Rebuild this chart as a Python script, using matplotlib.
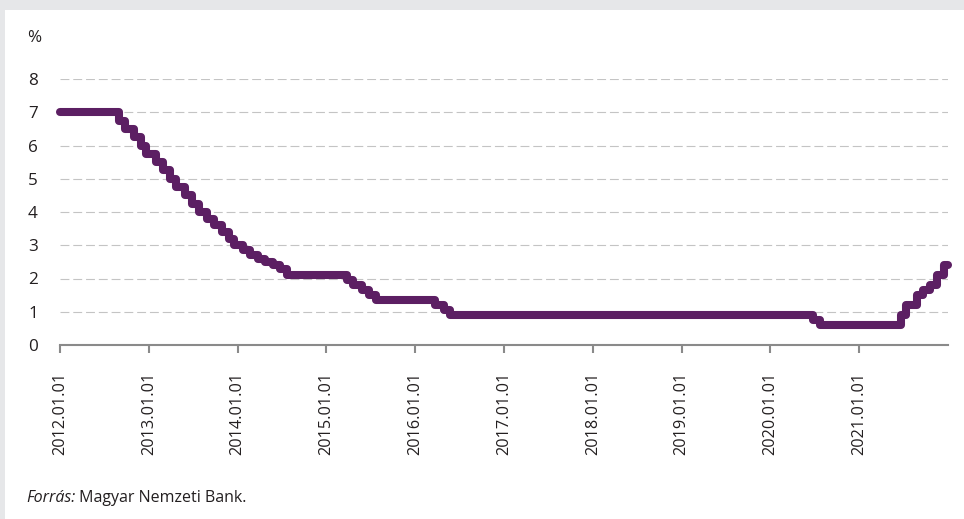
import numpy as np
import matplotlib.pyplot as plt
from matplotlib.patches import Rectangle
from datetime import datetime

# MNB alapkamat (hatályba lépés dátuma, kamat %)
dates = ['2012-01-01', '2012-08-29', '2012-09-26', '2012-10-31', '2012-11-28',
         '2012-12-19', '2013-01-30', '2013-02-27', '2013-03-27', '2013-04-24',
         '2013-05-29', '2013-06-26', '2013-07-24', '2013-08-28', '2013-09-25',
         '2013-10-30', '2013-11-27', '2013-12-18', '2014-01-22', '2014-02-19',
         '2014-03-26', '2014-04-23', '2014-05-28', '2014-06-25', '2014-07-23',
         '2015-03-25', '2015-04-22', '2015-05-27', '2015-06-24', '2015-07-22',
         '2016-03-23', '2016-04-27', '2016-05-25', '2020-06-24', '2020-07-22',
         '2021-06-23', '2021-07-14', '2021-08-25', '2021-09-22', '2021-10-20',
         '2021-11-17', '2021-12-15', '2021-12-31']
rates = [7.00, 6.75, 6.50, 6.25, 6.00,
         5.75, 5.50, 5.25, 5.00, 4.75,
         4.50, 4.25, 4.00, 3.80, 3.60,
         3.40, 3.20, 3.00, 2.85, 2.70,
         2.60, 2.50, 2.40, 2.30, 2.10,
         1.95, 1.80, 1.65, 1.50, 1.35,
         1.20, 1.05, 0.90, 0.75, 0.60,
         0.90, 1.20, 1.50, 1.65, 1.80,
         2.10, 2.40, 2.40]
tick_years = list(range(2012, 2022))
y_ticks = [0, 1, 2, 3, 4, 5, 6, 7, 8]

plt.rcParams['font.family'] = ['Open Sans', 'DejaVu Sans']

x = [datetime.strptime(d, '%Y-%m-%d') for d in dates]

fig = plt.figure(figsize=(9.64, 5.19), dpi=100)
fig.patch.set_facecolor('white')
# szürke keret felül és bal oldalt
fig.patches.append(Rectangle((0, 1 - 10 / 519), 1, 10 / 519, transform=fig.transFigure,
                             facecolor='#e6e7e9', edgecolor='none', zorder=0))
fig.patches.append(Rectangle((0, 0), 5 / 964, 1, transform=fig.transFigure,
                             facecolor='#e6e7e9', edgecolor='none', zorder=0))

ax = fig.add_axes([60 / 964, (519 - 345) / 519, 888 / 964, 266 / 519])
ax.set_facecolor('none')

ax.plot(x, rates, drawstyle='steps-post', color='#5c1f63', linewidth=5.8,
        solid_joinstyle='round', solid_capstyle='round', clip_on=False, zorder=3)

ax.set_xlim(datetime(2012, 1, 1), datetime(2022, 1, 1))
ax.set_ylim(0, 8)

ax.set_yticks(y_ticks)
ax.set_yticklabels([str(v) for v in y_ticks])
for v in y_ticks[1:]:
    ax.axhline(v, color='#c4c4c4', linewidth=0.8, dashes=(8, 3.5), zorder=1)

ax.set_xticks([datetime(yr, 1, 1) for yr in tick_years])
ax.set_xticklabels([f'{yr}.01.01' for yr in tick_years], rotation=90, va='top')

for s in ['top', 'right', 'left']:
    ax.spines[s].set_visible(False)
ax.spines['bottom'].set_color('#8a8a8a')
ax.spines['bottom'].set_linewidth(1.5)

ax.tick_params(axis='y', length=0, pad=16, labelsize=12.3, labelcolor='#231f20')
ax.tick_params(axis='x', direction='out', length=6, width=1.5, color='#8a8a8a',
               pad=13, labelsize=11.7, labelcolor='#231f20')

fig.text(27 / 964, 1 - 38 / 519, '%', fontsize=12.3, color='#231f20', va='center')
t = fig.text(26 / 964, 1 - 498 / 519, 'Forrás:', fontsize=11.5, style='italic',
             color='#231f20', va='center')
ax.annotate(' Magyar Nemzeti Bank.', xy=(1, 0), xycoords=t, fontsize=11.5,
            color='#231f20', va='bottom', ha='left', annotation_clip=False)

plt.savefig('out.png', dpi=100)
